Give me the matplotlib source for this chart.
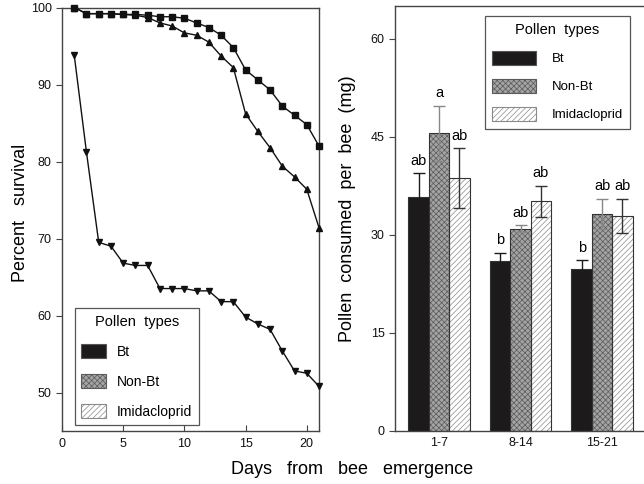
import numpy as np
import matplotlib
matplotlib.use('Agg')
import matplotlib.pyplot as plt
from matplotlib.patches import Patch

plt.rcParams['font.family'] = ['Liberation Sans', 'DejaVu Sans']
plt.rcParams['hatch.linewidth'] = 0.5

# survival data (percent), days 1-21
days = np.arange(1, 22)
surv_square = [100.0, 99.2, 99.2, 99.2, 99.1, 99.1, 99.0, 98.8, 98.8, 98.6, 98.0,
               97.4, 96.4, 94.8, 91.9, 90.6, 89.3, 87.2, 86.0, 84.8, 82.0]
surv_up = [100.0, 99.2, 99.2, 99.2, 99.1, 99.0, 98.7, 98.0, 97.6, 96.7, 96.4,
           95.5, 93.7, 92.2, 86.2, 83.9, 81.8, 79.4, 78.0, 76.4, 71.4]
surv_down = [93.8, 81.2, 69.5, 69.0, 66.8, 66.5, 66.5, 63.5, 63.5, 63.5, 63.2,
             63.2, 61.8, 61.8, 59.8, 58.9, 58.2, 55.4, 52.8, 52.5, 50.8]

# pollen consumption (mg per bee)
periods = ['1-7', '8-14', '15-21']
types = ['Bt', 'Non-Bt', 'Imidacloprid']
cons_bt = [35.7, 26.0, 24.7]
cons_nonbt = [45.5, 30.9, 33.2]
cons_imid = [38.6, 35.1, 32.9]
err_bt = [3.7, 1.2, 1.35]
err_nonbt = [4.2, 0.55, 2.3]
err_imid = [4.6, 2.4, 2.6]
letters_bt = ['ab', 'b', 'b']
letters_nonbt = ['a', 'ab', 'ab']
letters_imid = ['ab', 'ab', 'ab']

W, H = 644, 484
fig = plt.figure(figsize=(6.44, 4.84), dpi=100)

def px_axes(l, t, r, b):
    return fig.add_axes([l / W, (H - b) / H, (r - l) / W, (b - t) / H])

spine_c = '#444444'

# ---- left panel: survival
ax1 = px_axes(62, 7.5, 319, 431)
ax1.plot(days, surv_square, '-s', color='#111111', lw=1, ms=5, clip_on=False, zorder=3)
ax1.plot(days, surv_up, '-^', color='#111111', lw=1, ms=5, clip_on=False, zorder=3)
ax1.plot(days, surv_down, '-v', color='#111111', lw=1, ms=5, clip_on=False, zorder=3)
ax1.set_xlim(0, 21)
ax1.set_ylim(45, 100)
ax1.set_xticks([0, 5, 10, 15, 20])
ax1.set_yticks([50, 60, 70, 80, 90, 100])
ax1.tick_params(axis='y', direction='out', length=4, labelsize=9, colors=spine_c, labelcolor='#111111')
ax1.tick_params(axis='x', direction='in', length=4, labelsize=9, colors=spine_c, labelcolor='#111111', pad=5)
for s in ax1.spines.values():
    s.set_color(spine_c)
    s.set_linewidth(1)

# legend handles
h_bt = Patch(facecolor='#1c1a1a', edgecolor='#555555', lw=0.8)
h_nonbt = Patch(facecolor='#a4a4a4', edgecolor='#5a5a5a', hatch='xxxxxx', lw=0.8)
h_imid = Patch(facecolor='white', edgecolor='#8a8a8a', hatch='//////', lw=0.8)
handles = [h_bt, h_nonbt, h_imid]

leg1 = ax1.legend(handles, types, title='Pollen  types', loc='lower left',
                  bbox_to_anchor=(0.05, 0.014), borderaxespad=0, fontsize=10,
                  title_fontsize=10.5, handlelength=1.8, handleheight=1.2,
                  labelspacing=1.1, handletextpad=0.8, borderpad=0.45,
                  fancybox=False, edgecolor='#555555', framealpha=1)
leg1.get_frame().set_linewidth(0.9)

# ---- right panel: consumption
ax2 = px_axes(395, 6, 662, 430.5)
x = np.arange(len(periods))
bw = 0.25
series = [
    (cons_bt, err_bt, letters_bt, dict(color='#1c1a1a', edgecolor='#1c1a1a'), '#1c1a1a'),
    (cons_nonbt, err_nonbt, letters_nonbt, dict(color='#a4a4a4', edgecolor='#5a5a5a', hatch='xxxxxx'), '#888888'),
    (cons_imid, err_imid, letters_imid, dict(color='white', edgecolor='#8a8a8a', hatch='//////'), '#333333'),
]
for i, (vals, errs, lets, style, ecol) in enumerate(series):
    pos = x + (i - 1) * bw
    ax2.bar(pos, vals, bw, lw=0, zorder=2, **style)
    ax2.bar(pos, vals, bw, fill=False, edgecolor='#333333', lw=0.8, zorder=3)
    ax2.errorbar(pos, vals, yerr=errs, fmt='none', ecolor=ecol, elinewidth=1,
                 capsize=4.5, capthick=1, zorder=4)
    for p, v, e, t in zip(pos, vals, errs, lets):
        ax2.annotate(t, (p, v + e), xytext=(0, 4), textcoords='offset points',
                     ha='center', va='bottom', fontsize=10.5)

ax2.set_xlim(-0.54, 2.736)
ax2.set_ylim(0, 65)
ax2.set_xticks(x)
ax2.set_xticklabels(periods)
ax2.set_yticks([0, 15, 30, 45, 60])
ax2.tick_params(axis='y', direction='out', length=4, labelsize=9, colors=spine_c, labelcolor='#111111')
ax2.tick_params(axis='x', length=0, labelsize=9, labelcolor='#111111', pad=5)
for s in ax2.spines.values():
    s.set_color(spine_c)
    s.set_linewidth(1)

leg2 = ax2.legend(handles, types, title='Pollen  types', loc='upper left',
                  bbox_to_anchor=((485 - 395) / 267, (430.5 - 16) / 424.5),
                  borderaxespad=0, fontsize=9.5, title_fontsize=10.5,
                  handlelength=3.3, handleheight=1.2, labelspacing=1.05,
                  handletextpad=1.2, borderpad=0.55,
                  fancybox=False, edgecolor='#555555', framealpha=1)
leg2.get_frame().set_linewidth(0.9)

# axis titles
fig.text(352 / W, (H - 469) / H, 'Days   from   bee   emergence', ha='center', va='center', fontsize=13)
fig.text(21 / W, (H - 213) / H, 'Percent   survival', rotation=90, ha='center', va='center', fontsize=13)
fig.text(347 / W, (H - 209) / H, 'Pollen  consumed  per  bee  (mg)', rotation=90, ha='center', va='center', fontsize=13)

fig.savefig('out.png', dpi=100)
